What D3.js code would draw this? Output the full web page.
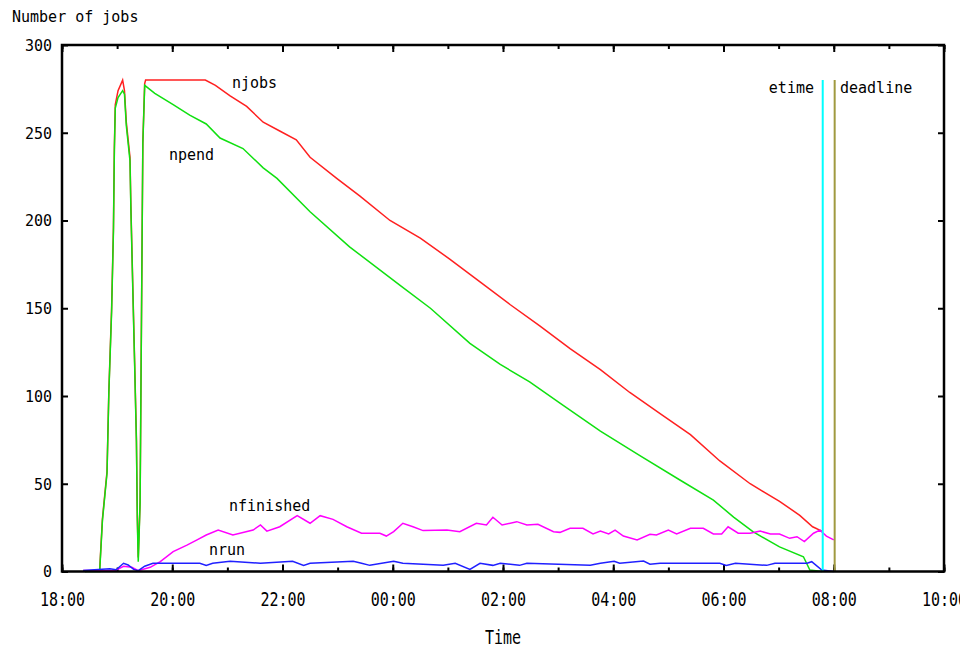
<!DOCTYPE html>
<html>
<head>
<meta charset="utf-8">
<script src="https://cdn.jsdelivr.net/npm/d3@7"></script>
<style>
body { margin: 0; background: #fff; }
text { font-family: "DejaVu Sans Mono", monospace; font-size: 15px; fill: #000; }
</style>
</head>
<body>
<div id="chart"></div>
<script>
// time of day (rolls over midnight), value
var njobs = [["18:25",0],["18:41",1],["18:44",30],["18:49",57],["18:51",103],["18:54",150],["18:56",196],["18:57",242],["18:58",266],["19:01",274],["19:06",280],["19:08",274],["19:10",256],["19:14",236],["19:15",208],["19:17",164],["19:19",121],["19:21",76],["19:22",31],["19:23",8],["19:25",40],["19:26",110],["19:27",178],["19:28",245],["19:30",278],["19:31",280],["20:36",280],["20:47",277],["21:03",271],["21:21",265],["21:39",256],["21:57",251],["22:15",246],["22:30",236],["22:59",224],["23:24",214],["23:57",200],["00:30",190],["01:02",178],["01:35",165],["02:08",152],["02:40",140],["03:13",127],["03:46",115],["04:18",102],["04:51",90],["05:24",78],["05:56",63],["06:29",50],["07:01",40],["07:23",32],["07:37",25.5],["07:47",23]];

var npend = [["18:25",0],["18:41",0],["18:44",29],["18:49",56],["18:51",102],["18:54",148],["18:56",194],["18:57",240],["18:58",264],["19:01",270],["19:06",274],["19:08",272],["19:10",254],["19:14",234],["19:15",206],["19:17",162],["19:19",119],["19:21",74],["19:22",29],["19:23",5.6],["19:25",39],["19:26",109],["19:27",177],["19:28",244],["19:30",277],["19:41",272.5],["20:01",266],["20:19",260],["20:37",255],["20:52",247],["21:17",241],["21:39",230],["21:54",224],["22:30",205],["23:13",185],["00:08",163],["00:41",150],["01:24",130],["01:57",118],["02:29",108],["03:02",96],["03:46",80],["04:29",66],["05:13",52],["05:49",40.7],["06:11",31],["06:32",22.7],["07:01",14],["07:27",8.4],["07:34",0.8],["07:47",0]];

var nfinished = [["18:23",0.5],["18:58",0.5],["19:07",3],["19:16",2.4],["19:23",0.5],["19:36",2.4],["19:47",5.6],["20:01",11.3],["20:16",15],["20:27",18],["20:37",20.8],["20:50",23.6],["21:06",20.8],["21:28",23.6],["21:36",26.5],["21:43",23],["21:57",25.5],["22:16",31.8],["22:30",27.5],["22:41",31.8],["22:55",29.7],["23:10",25.5],["23:26",21.8],["23:46",21.8],["23:53",20.2],["00:01",22.7],["00:11",27.5],["00:22",25.5],["00:33",23.3],["00:59",23.6],["01:13",22.7],["01:31",27.5],["01:42",26.5],["01:49",30.9],["01:59",26.5],["02:15",28.4],["02:26",26.5],["02:38",26.9],["02:55",22.7],["03:02",22.3],["03:13",24.6],["03:27",24.6],["03:38",21.4],["03:46",23],["03:55",21.4],["04:02",23.6],["04:11",20.2],["04:26",18],["04:40",21.2],["04:47",20.8],["05:00",23.6],["05:09",21.4],["05:24",24.6],["05:38",24.6],["05:49",21.4],["05:58",21.4],["06:05",25.5],["06:16",21.8],["06:29",21.8],["06:40",23],["06:51",21.4],["07:01",21.4],["07:12",18.9],["07:20",19.8],["07:28",17],["07:38",21.8],["07:45",23.6],["07:52",20.2],["08:00",18]];

var nrun = [["18:23",0.5],["18:52",1.5],["18:59",1],["19:07",4.7],["19:12",3.7],["19:18",1.2],["19:23",0.5],["19:30",3],["19:39",4.7],["20:30",4.7],["20:37",3.5],["20:44",4.7],["21:03",5.8],["21:36",4.7],["22:11",5.8],["22:23",3.5],["22:30",4.7],["23:17",5.8],["23:26",4.7],["23:35",3.5],["00:01",5.8],["00:11",4.7],["00:55",3.5],["01:08",4.7],["01:24",1.2],["01:35",4.7],["01:49",3.5],["01:57",4.7],["02:18",3.5],["02:26",4.7],["03:35",3.5],["03:46",4.7],["04:01",5.8],["04:07",4.7],["04:33",6],["04:40",4.2],["04:51",4.7],["05:56",4.7],["06:03",3.5],["06:13",4.7],["06:47",3.5],["06:56",4.7],["07:31",4.7],["07:36",5.6],["07:47",0.8],["08:00",0]];

var etime = "07:48";
var deadline = "08:01";
var markerTop = 280;
var yTicks = [0, 50, 100, 150, 200, 250, 300];

var width = 972, height = 649;
var margin = {left: 62, right: 28, top: 45, bottom: 77.5};

function parseT(s) {
  var p = s.split(":");
  var h = +p[0], m = +p[1];
  return new Date(2000, 0, h < 12 ? 2 : 1, h, m);
}

var svg = d3.select("#chart").append("svg").attr("width", width).attr("height", height);

// the original picture is cut off a bit before the right edge
svg.append("clipPath").attr("id", "cut")
  .append("rect").attr("x", 0).attr("y", 0).attr("width", 960).attr("height", height);

var x = d3.scaleTime()
  .domain([new Date(2000, 0, 1, 18), new Date(2000, 0, 2, 10)])
  .range([margin.left, width - margin.right]);
var y = d3.scaleLinear().domain([0, 300]).range([height - margin.bottom, margin.top]);

var bottomY = height - margin.bottom;

// minor hour ticks
svg.append("g").attr("transform", "translate(0," + bottomY + ")")
  .call(d3.axisBottom(x).ticks(d3.timeHour.every(1)).tickSize(-4).tickSizeOuter(0).tickFormat(""));
svg.append("g").attr("transform", "translate(0," + margin.top + ")")
  .call(d3.axisTop(x).ticks(d3.timeHour.every(1)).tickSize(-4).tickSizeOuter(0).tickFormat(""));

var xAxis = svg.append("g").attr("clip-path", "url(#cut)")
  .append("g").attr("transform", "translate(0," + bottomY + ")")
  .call(d3.axisBottom(x).ticks(d3.timeHour.every(2)).tickFormat(d3.timeFormat("%H:%M")).tickSize(-7).tickSizeOuter(0));
xAxis.selectAll("text").attr("y", 0).attr("dy", "0.35em")
  .attr("transform", "translate(0,28) scale(1,1.3)");

svg.append("g").attr("transform", "translate(0," + margin.top + ")")
  .call(d3.axisTop(x).ticks(d3.timeHour.every(2)).tickSize(-7).tickSizeOuter(0).tickFormat(""));

var yAxis = svg.append("g").attr("transform", "translate(" + margin.left + ",0)")
  .call(d3.axisLeft(y).tickValues(yTicks).tickSize(-6).tickSizeOuter(0));
yAxis.selectAll("text").attr("x", -10).attr("dy", "0.35em");

svg.append("g").attr("transform", "translate(" + (width - margin.right) + ",0)")
  .call(d3.axisRight(y).tickValues(yTicks).tickSize(-6).tickSizeOuter(0).tickFormat(""));

svg.selectAll(".domain").remove();
svg.selectAll(".tick line").attr("stroke", "#000").attr("stroke-width", 2);
svg.selectAll(".tick text").style("font-family", "DejaVu Sans Mono").style("font-size", "15px");

var line = d3.line()
  .x(function(d) { return x(parseT(d[0])); })
  .y(function(d) { return y(d[1]); });

var series = [
  {data: njobs, color: "#ff2020"},
  {data: npend, color: "#10e010"},
  {data: nfinished, color: "#ff00ff"},
  {data: nrun, color: "#2020ff"}
];
series.forEach(function(s) {
  svg.append("path").datum(s.data)
    .attr("fill", "none").attr("stroke", s.color).attr("stroke-width", 1.5)
    .attr("d", line);
});

// etime and deadline markers
[[etime, "#00ffff"], [deadline, "#a09a40"]].forEach(function(m) {
  svg.append("line")
    .attr("x1", x(parseT(m[0]))).attr("x2", x(parseT(m[0])))
    .attr("y1", y(0)).attr("y2", y(markerTop))
    .attr("stroke", m[1]).attr("stroke-width", 2);
});

// frame
svg.append("rect")
  .attr("x", margin.left).attr("y", margin.top)
  .attr("width", width - margin.left - margin.right)
  .attr("height", bottomY - margin.top)
  .attr("fill", "none").attr("stroke", "#000").attr("stroke-width", 2.5);

// labels
svg.append("text").attr("x", 12).attr("y", 22).text("Number of jobs");
svg.append("text").attr("text-anchor", "middle")
  .attr("transform", "translate(" + ((margin.left + width - margin.right) / 2) + ",644) scale(1,1.3)")
  .text("Time");

svg.append("text").attr("x", 232).attr("y", 88).text("njobs");
svg.append("text").attr("x", 169).attr("y", 160).text("npend");
svg.append("text").attr("x", 229).attr("y", 511).text("nfinished");
svg.append("text").attr("x", 209).attr("y", 555).text("nrun");
svg.append("text").attr("x", 814).attr("y", 93).attr("text-anchor", "end").text("etime");
svg.append("text").attr("x", 840).attr("y", 93).text("deadline");
</script>
</body>
</html>
